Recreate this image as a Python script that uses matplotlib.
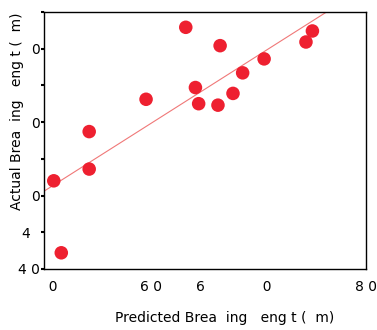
import numpy as np
import matplotlib
matplotlib.use("Agg")
import matplotlib.pyplot as plt

# predicted vs actual breaking length
predicted = [50.9, 51.6, 54.2, 54.2, 59.5, 63.2, 64.1, 64.4, 66.2, 66.4, 67.6, 68.5, 70.5, 74.4, 75.0]
actual = [52.0, 42.2, 58.7, 53.6, 63.1, 72.9, 64.7, 62.5, 62.3, 70.4, 63.9, 66.7, 68.6, 70.9, 72.4]

# tick labels as they appear (some glyphs missing in the original)
x_ticks = [50, 55, 60, 65, 70, 75, 80]
x_labels = ["\u2007\u20070", "", "6 0", "6\u2007", "\u2007\u20070", "", "8 0"]
y_ticks = [40, 45, 50, 55, 60, 65, 70, 75]
y_labels = ["4 0", "4\u2007", "0", "", "0", "", "0", ""]

fig = plt.figure(figsize=(3.77, 3.30), dpi=100)
ax = fig.add_axes([0.117, 0.185, 0.854, 0.779])

ax.scatter(predicted, actual, s=95, color="#ee2030", edgecolors="none", zorder=3)

# least squares fit line
slope, intercept = np.polyfit(predicted, actual, 1)
xs = np.array([50, 80])
ax.plot(xs, slope * xs + intercept, color="#f07878", linewidth=0.8, zorder=2)

ax.set_xlim(50, 80)
ax.set_ylim(40, 75)
ax.set_xticks(x_ticks)
ax.set_xticklabels(x_labels)
ax.set_yticks(y_ticks)
ax.set_yticklabels(y_labels)
ax.tick_params(axis="x", length=0, pad=8, labelsize=10)
ax.tick_params(axis="y", length=2, width=1.5, pad=1, labelsize=10)

for sp in ax.spines.values():
    sp.set_linewidth(1.0)
    sp.set_color("black")

ax.set_xlabel("Predicted Brea\u2007ing \u2007eng t (\u2007m)", fontsize=10)
ax.set_ylabel("Actual Brea\u2007ing \u2007eng t (\u2007m)", fontsize=10)
ax.xaxis.set_label_coords(0.562, -0.165)
ax.yaxis.set_label_coords(-0.062, 0.615)

fig.savefig("out.png", dpi=100)
